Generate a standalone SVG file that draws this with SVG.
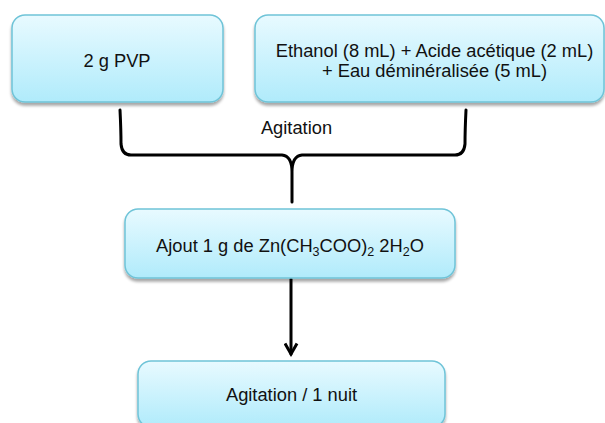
<svg xmlns="http://www.w3.org/2000/svg" width="605" height="423" viewBox="0 0 605 423">
<defs>
<linearGradient id="g" x1="0" y1="0" x2="0" y2="1">
<stop offset="0" stop-color="#e8faff"/>
<stop offset="1" stop-color="#b0ebfb"/>
</linearGradient>
<filter id="sh" x="-10%" y="-10%" width="120%" height="130%">
<feGaussianBlur in="SourceAlpha" stdDeviation="1.5"/>
<feOffset dx="0" dy="2.5" result="b"/>
<feComponentTransfer><feFuncA type="linear" slope="0.35"/></feComponentTransfer>
<feMerge><feMergeNode/><feMergeNode in="SourceGraphic"/></feMerge>
</filter>
<marker id="ah" viewBox="0 0 10 10" refX="8" refY="5" markerWidth="5" markerHeight="5" orient="auto">
<path d="M1,1 L8,5 L1,9" fill="none" stroke="#000" stroke-width="2"/>
</marker>
</defs>
<style>
.box{fill:url(#g);stroke:#6fc4d8;stroke-width:1.5;filter:url(#sh)}
.t{font-family:"Liberation Sans",Arial,sans-serif;font-size:18.3px;fill:#111;text-anchor:middle}
.c{fill:none;stroke:#000;stroke-width:3;stroke-linecap:round;stroke-linejoin:round}
</style>
<g id="connectors">
<path class="c" d="M120,110 Q121,130 121,144 Q122,155 131,155 L282,155 Q292,156 292,172 L292,202 M292,172 Q292,156 302,155 L455,155 Q464,155 465,144 Q465,130 466,110"/>
<path class="c" d="M291,279 L291,354" marker-end="url(#ah)"/>
</g>
<text class="t" x="296.5" y="134">Agitation</text>
<g id="n1">
<rect class="box" x="12" y="15" width="211" height="87" rx="13"/>
<text class="t" x="117" y="66.5">2 g PVP</text>
</g>
<g id="n2">
<rect class="box" x="255" y="15" width="349" height="87" rx="13"/>
<text class="t" x="434.5" y="56.5">Ethanol (8 mL) + Acide acétique (2 mL)</text>
<text class="t" x="434.5" y="76.5">+ Eau déminéralisée (5 mL)</text>
</g>
<g id="n3">
<rect class="box" x="125" y="209" width="330" height="69" rx="13"/>
<text class="t" x="290" y="252">Ajout 1 g de Zn(CH<tspan font-size="12.5" dy="4">3</tspan><tspan dy="-4">COO)</tspan><tspan font-size="12.5" dy="4">2</tspan><tspan dy="-4"> 2H</tspan><tspan font-size="12.5" dy="4">2</tspan><tspan dy="-4">O</tspan></text>
</g>
<g id="n4">
<rect class="box" x="138" y="361" width="307" height="66" rx="13"/>
<text class="t" x="291.5" y="401">Agitation / 1 nuit</text>
</g>
</svg>
